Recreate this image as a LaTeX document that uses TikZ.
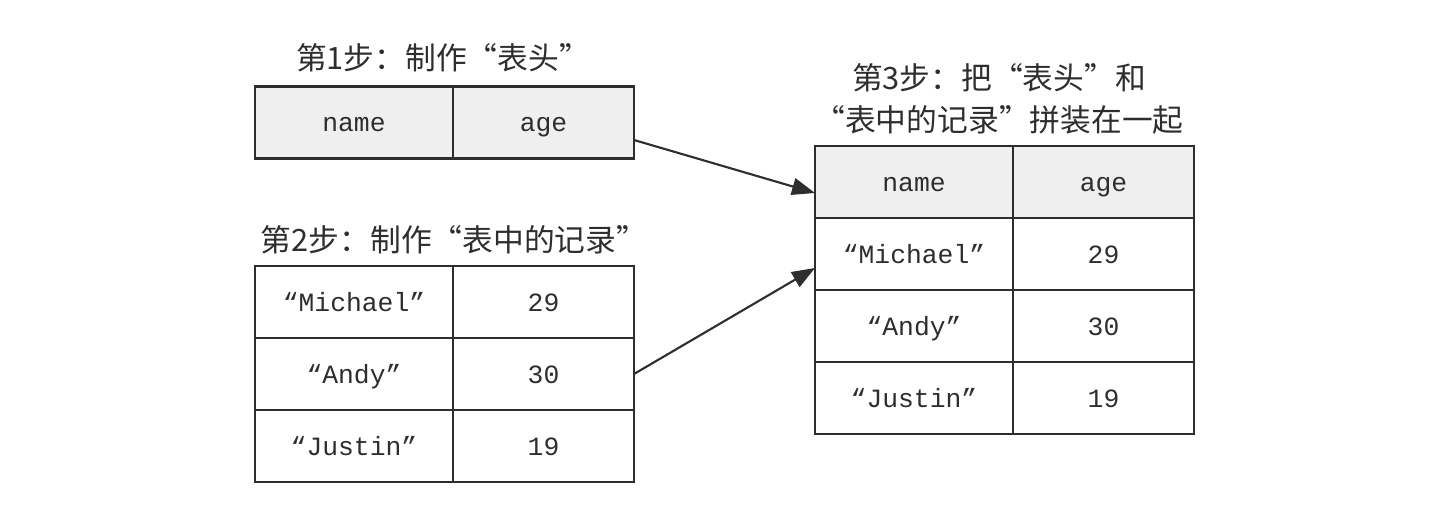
\documentclass[tikz,border=0pt]{standalone}
\usepackage{fontspec}
\setmonofont{Liberation Mono}
\newfontfamily\cjk{Noto Sans CJK SC}
\usepackage{xcolor}
\usetikzlibrary{arrows.meta, positioning}
\definecolor{hdgray}{HTML}{EFEFEF}
\definecolor{ink}{HTML}{2E2E2E}

\begin{document}
\begin{tikzpicture}[
  % Wide left-column cells (name)
  lcell/.style={rectangle, draw=ink, line width=1.2pt, fill=#1,
                minimum width=3.96cm, minimum height=1.44cm,
                font=\fontsize{15}{17}\ttfamily, text=ink,
                text height=12pt, text depth=1.4pt,
                inner sep=0pt, outer sep=0pt},
  lcell/.default=white,
  % Narrow right-column cells (age)
  rcell/.style={rectangle, draw=ink, line width=1.2pt, fill=#1,
                minimum width=3.62cm, minimum height=1.44cm,
                font=\fontsize{15}{17}\ttfamily, text=ink,
                text height=12pt, text depth=1.4pt,
                inner sep=0pt, outer sep=0pt},
  rcell/.default=white,
  % Step captions
  caption/.style={font=\cjk\fontsize{17.5}{24}\selectfont, text=ink,
                  align=center},
  arrow/.style={-{Triangle[length=4.6mm, width=3.4mm]}, line width=1.2pt,
                draw=ink}
]
\useasboundingbox (0,0) rectangle (29.12,10.16);

%% ── Step 1: header row ──────────────────────────────────────
\node[caption] (cap1) at (8.86, 9.00) {第1步：制作“表头”};
\node[lcell=hdgray] (h1name) at (7.08, 7.71) {name};
\node[rcell=hdgray, right=0pt of h1name] (h1age) {age};

%% ── Step 2: record rows ─────────────────────────────────────
\node[caption] (cap2) at (9.08, 5.36) {第2步：制作“表中的记录”};
\node[lcell] (r2a) at (7.08, 4.12) {“Michael”};
\node[rcell, right=0pt of r2a] (r2aage) {29};
\node[lcell, below=0pt of r2a] (r2b) {“Andy”};
\node[rcell, right=0pt of r2b] (r2bage) {30};
\node[lcell, below=0pt of r2b] (r2c) {“Justin”};
\node[rcell, right=0pt of r2c] (r2cage) {19};

%% ── Step 3: assembled table ─────────────────────────────────
\node[caption] (cap3) at (19.98, 8.18)
    {第3步：把“表头”和\\“表中的记录”拼装在一起};
\node[lcell=hdgray] (h3name) at (18.28, 6.52) {name};
\node[rcell=hdgray, right=0pt of h3name] (h3age) {age};
\node[lcell, below=0pt of h3name] (r3a) {“Michael”};
\node[rcell, right=0pt of r3a] (r3aage) {29};
\node[lcell, below=0pt of r3a] (r3b) {“Andy”};
\node[rcell, right=0pt of r3b] (r3bage) {30};
\node[lcell, below=0pt of r3b] (r3c) {“Justin”};
\node[rcell, right=0pt of r3c] (r3cage) {19};

%% ── Arrows into the assembled table ─────────────────────────
\draw[arrow] ([yshift=-0.35cm]h1age.east) -- ([yshift=-0.22cm]h3name.west);
\draw[arrow] (r2bage.east) -- ([yshift=-0.28cm]r3a.west);

\end{tikzpicture}
\end{document}
